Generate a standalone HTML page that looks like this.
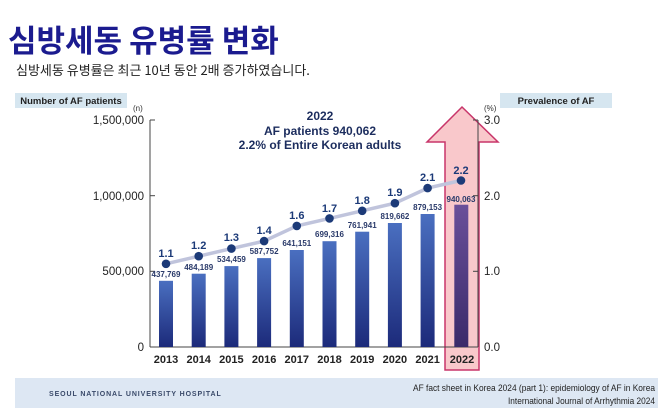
<!DOCTYPE html>
<html><head><meta charset="utf-8"><style>
html,body{margin:0;padding:0;background:#fff;}
svg{display:block;font-family:"Liberation Sans","Noto Sans CJK KR",sans-serif;}
</style></head><body>
<svg width="658" height="408" viewBox="0 0 658 408" xmlns="http://www.w3.org/2000/svg">
<defs>
<linearGradient id="bg" x1="0" y1="0" x2="0" y2="1"><stop offset="0" stop-color="#4a6fc0"/><stop offset="1" stop-color="#1c2a7a"/></linearGradient>
<linearGradient id="bp" x1="0" y1="0" x2="0" y2="1"><stop offset="0" stop-color="#6a4f9a"/><stop offset="1" stop-color="#3a2a6a"/></linearGradient>
</defs>
<text x="8" y="52" font-size="31" font-weight="bold" fill="#1b1b8f" font-family="'Noto Sans CJK KR',sans-serif">심방세동 유병률 변화</text>
<text x="16" y="75" font-size="13" fill="#222" font-family="'Noto Sans CJK KR',sans-serif">심방세동 유병률은 최근 10년 동안 2배 증가하였습니다.</text>
<rect x="15" y="93" width="112" height="15" fill="#d6e6f0"/>
<text x="71" y="104" font-size="9.5" font-weight="bold" text-anchor="middle" fill="#222">Number of AF patients</text>
<rect x="500" y="93" width="112" height="15" fill="#d6e6f0"/>
<text x="556" y="104" font-size="9.5" font-weight="bold" text-anchor="middle" fill="#222">Prevalence of AF</text>
<text x="133" y="111" font-size="8" fill="#333">(n)</text>
<text x="484" y="111" font-size="8" fill="#333">(%)</text>
<polygon points="462,107 498,142 479,142 479,370 445,370 445,142 427,142" fill="#f9c8cb" stroke="#c8356a" stroke-width="1.5"/>
<g font-size="11.5" fill="#222">
<line x1="150" y1="120" x2="150" y2="347" stroke="#444"/>
<line x1="150" y1="120" x2="155" y2="120" stroke="#444"/>
<line x1="150" y1="195.7" x2="155" y2="195.7" stroke="#444"/>
<line x1="150" y1="271.3" x2="155" y2="271.3" stroke="#444"/>
<line x1="150" y1="347" x2="478" y2="347" stroke="#444"/>
<line x1="478" y1="120" x2="478" y2="347" stroke="#444"/>
<line x1="473" y1="120" x2="478" y2="120" stroke="#444"/>
<line x1="473" y1="195.7" x2="478" y2="195.7" stroke="#444"/>
<line x1="473" y1="271.3" x2="478" y2="271.3" stroke="#444"/>
<text x="144" y="124" text-anchor="end">1,500,000</text>
<text x="144" y="200" text-anchor="end">1,000,000</text>
<text x="144" y="275" text-anchor="end">500,000</text>
<text x="144" y="351" text-anchor="end">0</text>
<text x="484" y="124">3.0</text>
<text x="484" y="200">2.0</text>
<text x="484" y="275">1.0</text>
<text x="484" y="351">0.0</text>
</g>
<g fill="url(#bg)">
<rect x="159" y="280.8" width="14" height="66.2"/>
<rect x="191.7" y="273.7" width="14" height="73.3"/>
<rect x="224.4" y="266.1" width="14" height="80.9"/>
<rect x="257.1" y="258.1" width="14" height="88.9"/>
<rect x="289.8" y="250" width="14" height="97"/>
<rect x="322.5" y="241.2" width="14" height="105.8"/>
<rect x="355.2" y="231.7" width="14" height="115.3"/>
<rect x="387.9" y="223" width="14" height="124"/>
<rect x="420.6" y="214" width="14" height="133"/>
</g>
<rect x="454.3" y="204.7" width="14" height="142.3" fill="url(#bp)"/>
<g font-size="8" font-weight="bold" fill="#2a3a6a" text-anchor="middle">
<text x="166" y="277">437,769</text>
<text x="198.7" y="270">484,189</text>
<text x="231.4" y="262">534,459</text>
<text x="264.1" y="254">587,752</text>
<text x="296.8" y="246">641,151</text>
<text x="329.5" y="237">699,316</text>
<text x="362.2" y="228">761,941</text>
<text x="394.9" y="219">819,662</text>
<text x="427.6" y="210">879,153</text>
<text x="461" y="202">940,063</text>
</g>
<polyline points="166,263.8 198.7,256.2 231.4,248.6 264.1,241.1 296.8,225.9 329.5,218.4 362.2,210.8 394.9,203.2 427.6,188.1 461,180.5" fill="none" stroke="#c0c4dc" stroke-width="3.5"/>
<g fill="#1c3a78">
<circle cx="166" cy="263.8" r="4.3"/><circle cx="198.7" cy="256.2" r="4.3"/><circle cx="231.4" cy="248.6" r="4.3"/><circle cx="264.1" cy="241.1" r="4.3"/><circle cx="296.8" cy="225.9" r="4.3"/><circle cx="329.5" cy="218.4" r="4.3"/><circle cx="362.2" cy="210.8" r="4.3"/><circle cx="394.9" cy="203.2" r="4.3"/><circle cx="427.6" cy="188.1" r="4.3"/><circle cx="461" cy="180.5" r="4.3"/>
</g>
<g font-size="11" font-weight="bold" fill="#1c3a78" text-anchor="middle">
<text x="166" y="257">1.1</text><text x="198.7" y="249">1.2</text><text x="231.4" y="241">1.3</text><text x="264.1" y="234">1.4</text><text x="296.8" y="219">1.6</text><text x="329.5" y="212">1.7</text><text x="362.2" y="204">1.8</text><text x="394.9" y="196">1.9</text><text x="427.6" y="181">2.1</text><text x="461" y="174">2.2</text>
</g>
<g font-size="12" font-weight="bold" fill="#1c2d5e" text-anchor="middle">
<text x="320" y="120">2022</text>
<text x="320" y="135">AF patients 940,062</text>
<text x="320" y="149">2.2% of Entire Korean adults</text>
</g>
<g font-size="11" font-weight="bold" fill="#222" text-anchor="middle">
<text x="166" y="363">2013</text><text x="198.7" y="363">2014</text><text x="231.4" y="363">2015</text><text x="264.1" y="363">2016</text><text x="296.8" y="363">2017</text><text x="329.5" y="363">2018</text><text x="362.2" y="363">2019</text><text x="394.9" y="363">2020</text><text x="427.6" y="363">2021</text><text x="462" y="363">2022</text>
</g>
<rect x="15" y="378" width="643" height="30" fill="#dde7f3"/>
<text x="49" y="396" font-size="7" font-weight="bold" letter-spacing="0.9" fill="#3a4a6a">SEOUL NATIONAL UNIVERSITY HOSPITAL</text>
<text x="655" y="391" font-size="9.5" text-anchor="end" fill="#222" textLength="242" lengthAdjust="spacingAndGlyphs">AF fact sheet in Korea 2024 (part 1): epidemiology of AF in Korea</text>
<text x="655" y="404" font-size="9.5" text-anchor="end" fill="#222" textLength="147" lengthAdjust="spacingAndGlyphs">International Journal of Arrhythmia 2024</text>
</svg>
</body></html>
